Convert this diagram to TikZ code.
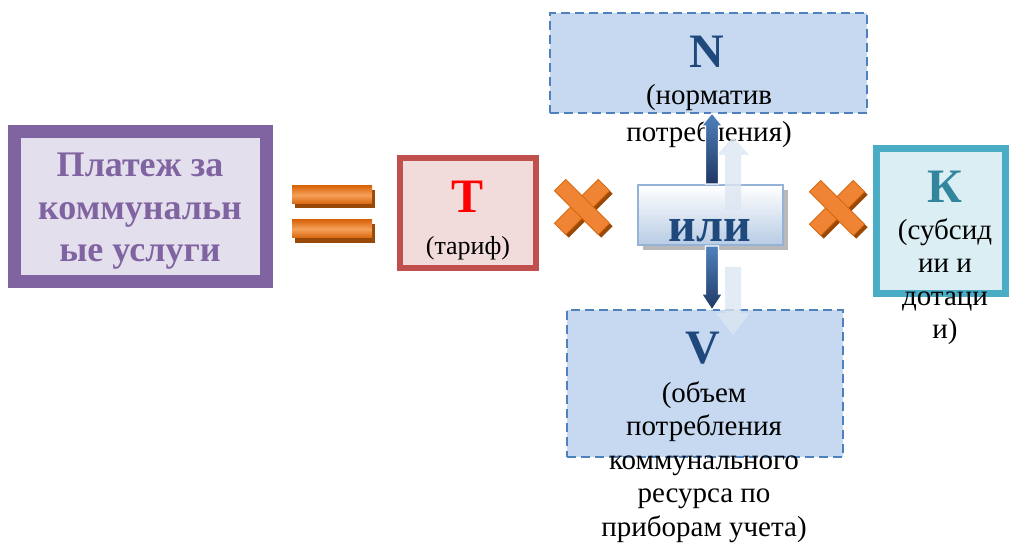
\documentclass[tikz,border=0pt]{standalone}
\usepackage{fontspec}
\setmainfont{Liberation Serif}
\usetikzlibrary{calc}
\definecolor{purpB}{HTML}{8064A2}
\definecolor{purpF}{HTML}{E4DFEC}
\definecolor{redB}{HTML}{C0504D}
\definecolor{redF}{HTML}{F2DCDB}
\definecolor{tealB}{HTML}{4BACC6}
\definecolor{tealF}{HTML}{DAEEF3}
\definecolor{tealT}{HTML}{31859C}
\definecolor{blueB}{HTML}{4F81BD}
\definecolor{blueF}{HTML}{C6D9F1}
\definecolor{navy}{HTML}{1F497D}
\definecolor{navyD}{HTML}{1F3864}
\definecolor{orL}{HTML}{F5A05A}
\definecolor{orA}{HTML}{EE8434}
\definecolor{orB}{HTML}{D9660C}
\definecolor{orS}{HTML}{984807}
\definecolor{ghost}{HTML}{DCE6F2}
\definecolor{iliB}{HTML}{95B3D7}
\definecolor{iliF}{HTML}{B8CCE4}
\begin{document}
\begin{tikzpicture}[x=1bp,y=-1bp,
  boxbase/.style={rectangle, inner sep=0pt, outer sep=0pt},
  paybox/.style={boxbase, draw=purpB, fill=purpF, line width=13bp, minimum width=252bp, minimum height=150bp},
  tbox/.style={boxbase, draw=redB, fill=redF, line width=6.5bp, minimum width=136bp, minimum height=110bp},
  kbox/.style={boxbase, draw=tealB, fill=tealF, line width=7bp, minimum width=129bp, minimum height=145bp},
  dbox/.style={boxbase, draw=blueB, fill=blueF, line width=2.2bp, dash pattern=on 9bp off 5bp},
  ilibox/.style={boxbase, draw=iliB, line width=1.5bp, top color=white, bottom color=iliF, minimum width=145bp, minimum height=60bp},
  txt/.style={anchor=base, inner sep=0pt, font=\fontsize{29bp}{34bp}\selectfont},
  smalltxt/.style={anchor=base, inner sep=0pt, font=\fontsize{26bp}{30bp}\selectfont},
  paytxt/.style={anchor=base, inner sep=0pt, text=purpB, font=\bfseries\fontsize{36bp}{42bp}\selectfont},
  bigletter/.style={anchor=base, inner sep=0pt, font=\bfseries\fontsize{48bp}{56bp}\selectfont},
  armshadow/.style={boxbase, fill=orS, minimum width=62bp, minimum height=16bp},
  arm/.style={boxbase, fill=orA, draw=orB, line width=0.8bp, minimum width=62bp, minimum height=16bp},
  darkarrow/.style={top color=blueB, bottom color=navyD, draw=white, line width=1.2bp},
  ghostarrow/.style={fill=ghost, fill opacity=0.8}
]
\useasboundingbox (0,0) rectangle (1009,543);

% payment box
\node[paybox] (pay) at (140.5,206.5) {};
\node[paytxt] (pay1) at (140,177) {Платеж за};
\node[paytxt] (pay2) at (140,220) {коммунальн};
\node[paytxt] (pay3) at (140,262) {ые услуги};

% equals sign
\fill[orS] (295,190) rectangle (375,208);
\fill[orS] (295,224) rectangle (375,243);
\shade[top color=orB, bottom color=orB, middle color=orL] (292,186) rectangle (372,204);
\shade[top color=orB, bottom color=orB, middle color=orL] (292,220) rectangle (372,238);

% tariff box
\node[tbox] (T) at (468,213) {};
\node[bigletter, text=red] (Tl) at (468,213) {Т};
\node[smalltxt] (Tt) at (468,255) {(тариф)};

% cross 1
\node[armshadow, rotate=45] (c1s1) at (585,210) {};
\node[armshadow, rotate=-45] (c1s2) at (585,210) {};
\node[arm, rotate=45] (c1a) at (582,207) {};
\node[arm, rotate=-45] (c1b) at (582,207) {};

% N box
\node[dbox, minimum width=317bp, minimum height=100bp] (N) at (708.5,63) {};
\node[bigletter, text=navy] (Nl) at (707,68) {N};
\node[txt] (Nt1) at (709,105) {(норматив};
\node[txt] (Nt2) at (709,142) {потребления)};

% V box
\node[dbox, minimum width=276bp, minimum height=147bp] (V) at (705,383.5) {};
\node[bigletter, text=navy] (Vl) at (703,364) {V};
\node[txt] (Vt1) at (704,402) {(объем};
\node[txt] (Vt2) at (704,435.5) {потребления};
\node[txt] (Vt3) at (704,469) {коммунального};
\node[txt] (Vt4) at (704,502.5) {ресурса по};
\node[txt] (Vt5) at (704,536) {приборам учета)};

% K box
\node[kbox] (K) at (941,221) {};
\node[bigletter, text=tealT] (Kl) at (945,203) {К};
\node[txt] (Kt1) at (945,240) {(субсид};
\node[txt] (Kt2) at (945,273) {ии и};
\node[txt] (Kt3) at (945,306) {дотаци};
\node[txt] (Kt4) at (945,339) {и)};

% cross 2
\node[armshadow, rotate=45] (c2s1) at (840,211) {};
\node[armshadow, rotate=-45] (c2s2) at (840,211) {};
\node[arm, rotate=45] (c2a) at (837,208) {};
\node[arm, rotate=-45] (c2b) at (837,208) {};

% "или" box with shadow
\fill[gray!55] (643,190) rectangle (788,250);
\node[ilibox] (ili) at (710.5,215) {};

% ghost arrows
\fill[ghostarrow] (725,210) -- (725,155) -- (717,155) -- (733,137) -- (749,155) -- (741,155) -- (741,210) -- cycle;
\fill[ghostarrow] (725,267) -- (725,313) -- (716,313) -- (733,335) -- (750,313) -- (741,313) -- (741,267) -- cycle;

% dark arrows
\coordinate (upT) at ($(ili.north |- N.south)+(1.5,0)$);
\coordinate (upB) at ($(ili.north)+(1.5,-1)$);
\path[darkarrow] ($(upB)+(-6.5,0)$) -- ($(upT)+(-6.5,13)$) -- ($(upT)+(-10.5,13)$) -- (upT)
  -- ($(upT)+(10.5,13)$) -- ($(upT)+(6.5,13)$) -- ($(upB)+(6.5,0)$) -- cycle;
\coordinate (dnT) at ($(ili.south |- V.north)+(1.5,0)$);
\coordinate (dnB) at ($(ili.south)+(1.5,1)$);
\path[darkarrow] ($(dnB)+(-6.5,0)$) -- ($(dnT)+(-6.5,-16)$) -- ($(dnT)+(-10.5,-16)$) -- (dnT)
  -- ($(dnT)+(10.5,-16)$) -- ($(dnT)+(6.5,-16)$) -- ($(dnB)+(6.5,0)$) -- cycle;

\node[bigletter, text=navy] (ilit) at (710,242) {или};
\end{tikzpicture}
\end{document}
